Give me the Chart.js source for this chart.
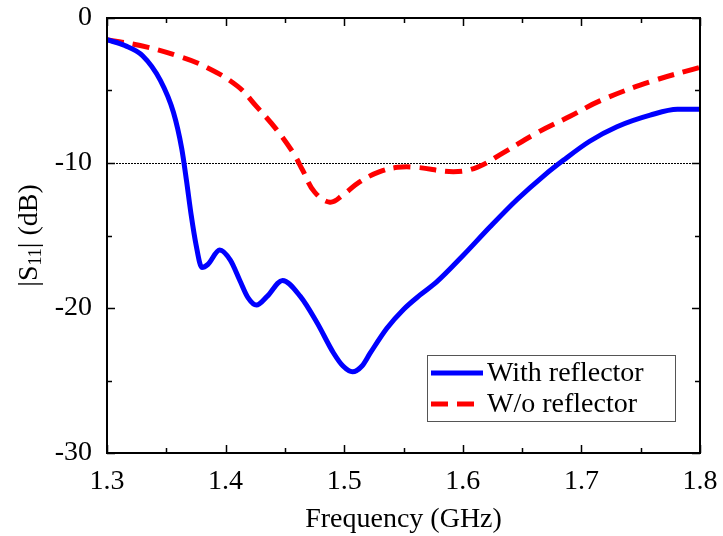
<!DOCTYPE html>
<html lang="en">
<head>
    <meta charset="UTF-8">
    <title>S11 vs Frequency</title>
    <script src="https://cdn.jsdelivr.net/npm/chart.js"></script>
    <style>
        html, body { margin: 0; padding: 0; background: #ffffff; }
        .wrap { width: 723px; height: 536px; }
    </style>
</head>
<body>
    <div class="wrap"><canvas id="s11Chart" width="723" height="536"></canvas></div>
    <script>
        // measured |S11| with the reflector
        const freqWith = [1.300, 1.315, 1.330, 1.345, 1.356, 1.363, 1.367, 1.371, 1.375, 1.380,
                          1.385, 1.395, 1.404, 1.412, 1.419, 1.426, 1.435, 1.448, 1.463, 1.477,
                          1.491, 1.499, 1.507, 1.515, 1.522, 1.536, 1.550, 1.564, 1.578, 1.600,
                          1.623, 1.646, 1.668, 1.685, 1.707, 1.730, 1.758, 1.781, 1.800];
        const s11With = [-1.5, -1.9, -2.6, -4.3, -6.5, -9.0, -11.2, -13.6, -15.6, -17.2,
                         -17.0, -16.0, -16.7, -18.1, -19.3, -19.8, -19.2, -18.1, -19.2, -21.0,
                         -23.1, -24.0, -24.4, -24.0, -23.1, -21.4, -20.1, -19.1, -18.2, -16.4,
                         -14.4, -12.5, -10.9, -9.8, -8.5, -7.5, -6.7, -6.3, -6.3];

        // measured |S11| without the reflector
        const freqWithout = [1.300, 1.328, 1.359, 1.384, 1.410, 1.426, 1.443, 1.457, 1.465, 1.475,
                             1.488, 1.499, 1.513, 1.530, 1.545, 1.561, 1.592, 1.612, 1.634, 1.663,
                             1.690, 1.716, 1.758, 1.800];
        const s11Without = [-1.5, -1.9, -2.6, -3.4, -4.7, -6.1, -7.7, -9.3, -10.5, -12.0,
                            -12.7, -12.2, -11.3, -10.6, -10.3, -10.3, -10.6, -10.3, -9.3, -7.9,
                            -6.8, -5.7, -4.4, -3.4];

        const xTicks = [1.3, 1.4, 1.5, 1.6, 1.7, 1.8];
        const yTicks = [0, -10, -20, -30];
        const threshold = -10;

        const FONT = '"Liberation Serif", "Times New Roman", serif';

        const toPoints = (xs, ys) => xs.map((x, i) => ({ x: x, y: ys[i] }));

        // box, inward ticks, -10 dB reference line, y title and legend
        const framePlugin = {
            id: 'frame',
            beforeDatasetsDraw(chart) {
                const { ctx, chartArea: a, scales: { y } } = chart;
                const yRef = y.getPixelForValue(threshold);
                ctx.save();
                ctx.strokeStyle = '#000';
                ctx.lineWidth = 1;
                ctx.setLineDash([2, 1]);
                ctx.beginPath();
                ctx.moveTo(a.left, yRef + 0.5);
                ctx.lineTo(a.right, yRef + 0.5);
                ctx.stroke();
                ctx.restore();
            },
            afterDraw(chart) {
                const { ctx, chartArea: a, scales: { x, y } } = chart;
                ctx.save();
                ctx.strokeStyle = '#000';
                ctx.lineWidth = 2;
                ctx.strokeRect(a.left, a.top, a.right - a.left, a.bottom - a.top);

                ctx.lineWidth = 1.5;
                ctx.beginPath();
                for (let v = 1.3; v <= 1.8001; v += 0.05) {
                    const px = Math.round(x.getPixelForValue(v)) + 0.5;
                    const major = Math.abs(v * 10 - Math.round(v * 10)) < 1e-6;
                    const len = major ? 8 : 5;
                    ctx.moveTo(px, a.bottom); ctx.lineTo(px, a.bottom - len);
                    ctx.moveTo(px, a.top); ctx.lineTo(px, a.top + len);
                }
                for (let v = 0; v >= -30; v -= 5) {
                    const py = Math.round(y.getPixelForValue(v)) + 0.5;
                    const len = v % 10 === 0 ? 8 : 5;
                    ctx.moveTo(a.left, py); ctx.lineTo(a.left + len, py);
                    ctx.moveTo(a.right, py); ctx.lineTo(a.right - len, py);
                }
                ctx.stroke();

                // y axis title with subscript
                ctx.translate(30, (a.top + a.bottom) / 2);
                ctx.rotate(-Math.PI / 2);
                ctx.fillStyle = '#000';
                ctx.textBaseline = 'middle';
                const big = '28px ' + FONT, small = '18px ' + FONT;
                const parts = [['|S', big, 0], ['11', small, 6], ['| (dB)', big, 0]];
                let total = 0;
                parts.forEach(p => { ctx.font = p[1]; total += ctx.measureText(p[0]).width; });
                let cx = -total / 2;
                parts.forEach(p => {
                    ctx.font = p[1];
                    ctx.fillText(p[0], cx, p[2]);
                    cx += ctx.measureText(p[0]).width;
                });
                ctx.restore();

                // legend
                ctx.save();
                const lx = 427, ly = 355, lw = 248, lh = 66;
                ctx.fillStyle = '#fff';
                ctx.fillRect(lx, ly, lw, lh);
                ctx.strokeStyle = '#555';
                ctx.lineWidth = 1;
                ctx.strokeRect(lx + 0.5, ly + 0.5, lw, lh);
                chart.data.datasets.forEach((ds, i) => {
                    const rowY = ly + 18 + i * 31;
                    ctx.strokeStyle = ds.borderColor;
                    ctx.lineWidth = 5;
                    ctx.setLineDash(ds.borderDash || []);
                    ctx.beginPath();
                    ctx.moveTo(lx + 4, rowY);
                    ctx.lineTo(lx + 56, rowY);
                    ctx.stroke();
                    ctx.setLineDash([]);
                    ctx.fillStyle = '#000';
                    ctx.font = '28px ' + FONT;
                    ctx.textBaseline = 'middle';
                    ctx.fillText(ds.label, lx + 60, rowY + 1);
                });
                ctx.restore();
            }
        };

        new Chart(document.getElementById('s11Chart'), {
            type: 'line',
            data: {
                datasets: [{
                    label: 'With reflector',
                    data: toPoints(freqWith, s11With),
                    borderColor: '#0000ff',
                    borderWidth: 5,
                    pointRadius: 0,
                    cubicInterpolationMode: 'monotone',
                    fill: false
                }, {
                    label: 'W/o reflector',
                    data: toPoints(freqWithout, s11Without),
                    borderColor: '#ff0000',
                    borderWidth: 5,
                    borderDash: [17, 9],
                    pointRadius: 0,
                    tension: 0.4,
                    fill: false
                }]
            },
            options: {
                responsive: false,
                animation: false,
                layout: { padding: { top: 18, right: 23, left: 0, bottom: 0 } },
                plugins: { legend: { display: false }, tooltip: { enabled: false } },
                scales: {
                    x: {
                        type: 'linear',
                        min: 1.3, max: 1.8,
                        afterBuildTicks: s => { s.ticks = xTicks.map(v => ({ value: v })); },
                        afterFit: s => { s.height = 83; s.paddingLeft = 0; s.paddingRight = 0; },
                        grid: { display: false, drawTicks: false },
                        border: { display: false },
                        ticks: {
                            padding: 12,
                            color: '#000',
                            font: { family: FONT, size: 28 },
                            maxRotation: 0,
                            callback: v => v.toFixed(1)
                        },
                        title: {
                            display: true,
                            text: 'Frequency (GHz)',
                            color: '#000',
                            font: { family: FONT, size: 28 },
                            padding: { top: -8, bottom: 0 }
                        }
                    },
                    y: {
                        min: -30, max: 0,
                        afterBuildTicks: s => { s.ticks = yTicks.map(v => ({ value: v })); },
                        afterFit: s => { s.width = 107; s.paddingTop = 0; s.paddingBottom = 0; },
                        grid: { display: false, drawTicks: false },
                        border: { display: false },
                        ticks: {
                            padding: 15,
                            color: '#000',
                            font: { family: FONT, size: 28 }
                        }
                    }
                }
            },
            plugins: [framePlugin]
        });
    </script>
</body>
</html>
